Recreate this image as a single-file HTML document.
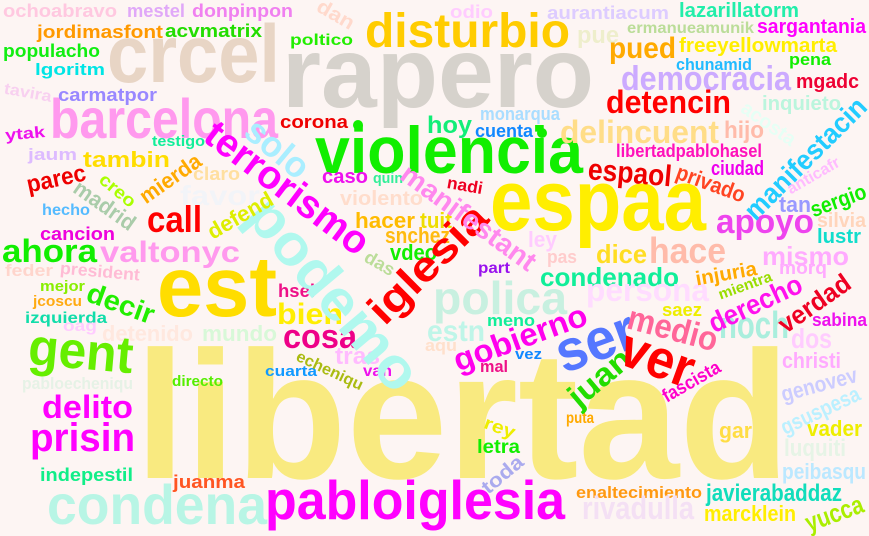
<!DOCTYPE html>
<html><head><meta charset="utf-8">
<style>
html,body{margin:0;padding:0;background:#fdf5f3;}
svg{display:block;}
text{font-family:"Liberation Sans",sans-serif;font-weight:bold;}
</style></head>
<body>
<svg id="cloud" width="869" height="536" viewBox="0 0 869 536" xmlns="http://www.w3.org/2000/svg">
<rect width="869" height="536" fill="#fdf5f3"/>
</svg>
<script>
// horizontal words: text, left x, baseline y, font size, color, width
const hWords = [
["libertad",135,478,182,"#f9ea80",655],
["rapero",282,107,100,"#d6d2cc",312],
["crcel",107,82,82,"#e8d5c5",173],
["disturbio",365,47,48,"#ffcc00",205],
["violencia",315,173,66,"#11ee00",268],
["espaa",490,230,86,"#ffee00",216],
["est",157,316,85,"#ffdd00",120],
["barcelona",50,138,56,"#ff99ee",228],
["pabloiglesia",265,519,55,"#ff00ff",300],
["condena",47,524,56,"#b8f5e5",220],
["prisin",30,451,40,"#ff00ff",105],
["delito",42,418,32,"#ff00ff",91],
["polica",433,314,46,"#c8f0e0",134],
["ochoabravo",3,17,18,"#ffc8e0",114],
["mestel",127,17,18,"#e0a8f8",58],
["donpinpon",192,17,18,"#f080f0",101],
["jordimasfont",37,38,18,"#ff9900",126],
["acvmatrix",165,37,18,"#22dd00",97],
["populacho",3,57,18,"#11ee11",97],
["lgoritm",35,75,17,"#00e5e5",70],
["carmatpor",58,101,18,"#9988ff",99],
["testigo",152,146,15,"#11ee99",53],
["jaum",28,160,17,"#ddbbff",49],
["tambin",83,167,22,"#ffdd00",87],
["claro",193,180,18,"#ffdfa0",47],
["favor",180,205,28,"#f2f4f8",80],
["hecho",42,215,16,"#55bbff",48],
["call",147,232,37,"#ff0000",55],
["cancion",40,240,18,"#ee00dd",75],
["ahora",2,262,32,"#11ee00",95],
["valtonyc",100,262,30,"#ff99ee",140],
["feder",5,276,17,"#ffd5cc",48],
["mejor",40,291,15,"#88ee00",45],
["jcoscu",33,306,15,"#ffaa11",49],
["izquierda",25,323,16,"#11ddaa",82],
["oag",63,331,16,"#ffccff",34],
["detenido",102,341,22,"#ffe8df",91],
["mundo",202,341,22,"#d8f8d8",75],
["hsel",278,297,18,"#ee1188",37],
["bien",277,324,30,"#ffee00",66],
["cosa",283,348,34,"#ee0088",74],
["pabloecheniqu",22,389,17,"#e6f2e6",111],
["directo",172,386,15,"#55ee00",51],
["cuarta",265,376,15,"#1199ff",52],
["indepestil",40,481,18,"#11ee88",93],
["juanma",173,488,18,"#ff5522",72],
["estn",427,341,30,"#bff5e8",58],
["meno",487,326,17,"#11ee99",48],
["aqu",425,351,17,"#ffe0cc",32],
["vez",515,359,15,"#1188ff",27],
["mal",480,372,17,"#ee1188",28],
["tras",335,364,24,"#ffbbff",45],
["van",363,376,16,"#ee11ee",29],
["letra",477,453,19,"#11ee00",43],
["puta",566,423,16,"#ffaa00",28],
["part",478,273,16,"#9911ee",32],
["condenado",540,286,26,"#11ee99",139],
["persona",586,301,32,"#ffdcff",123],
["morq",779,274,18,"#ffaaff",48],
["saez",662,316,18,"#eeee00",40],
["sabina",812,326,18,"#ee11ee",55],
["noch",719,338,38,"#aaeedd",70],
["dos",791,348,28,"#ffccff",41],
["christi",782,368,22,"#ffaaff",59],
["vader",807,436,22,"#eeee00",55],
["gar",719,438,22,"#ffdd44",33],
["luquiti",784,456,24,"#e6f4e6",62],
["peibasqu",782,479,22,"#bbe8ff",84],
["enaltecimiento",576,498,17,"#ff9911",126],
["javierabaddaz",706,501,24,"#11ddbb",136],
["rivadulla",582,519,32,"#f4e0f4",112],
["marcklein",704,521,22,"#ffee00",92],
["odio",450,18,18,"#ffccff",43],
["aurantiacum",547,19,18,"#ddccff",122],
["poltico",290,45,16,"#22ee00",63],
["pue",577,43,24,"#eeeecc",42],
["corona",280,128,18,"#ee0000",68],
["hoy",427,133,24,"#11ee77",45],
["monarqua",480,120,18,"#aaddff",80],
["cuenta",475,137,18,"#1188ff",58],
["delincuent",560,143,32,"#ffdd88",159],
["caso",322,183,20,"#ee11ee",46],
["quin",373,183,15,"#33ee99",30],
["violento",340,205,20,"#ffddcc",83],
["hacer",355,228,22,"#ffbb00",60],
["tuit",420,228,22,"#eedd00",32],
["snchez",385,243,22,"#ffbb11",65],
["vdeo",390,260,22,"#11ee00",47],
["ley",528,247,22,"#ffccff",29],
["pas",547,263,18,"#ffcccc",30],
["lazarillatorm",679,17,20,"#22eeaa",120],
["ermanueamunik",627,33,16,"#bbdd99",127],
["sargantania",757,33,20,"#ff00ff",109],
["pued",609,58,30,"#ffaa00",67],
["freeyellowmarta",679,52,20,"#ffee00",158],
["chunamid",676,70,17,"#22bbff",76],
["pena",789,65,17,"#11ee00",42],
["democracia",621,90,34,"#ccaaff",170],
["mgadc",796,88,20,"#ee0033",63],
["detencin",606,113,32,"#ff0000",125],
["inquieto",762,110,20,"#bbf5dd",79],
["hijo",724,138,24,"#ffbbaa",40],
["libertadpablohasel",616,157,18,"#ff11bb",146],
["ciudad",711,175,20,"#ee00ee",53],
["tan",779,212,22,"#9999ff",32],
["silvia",817,227,20,"#ffd5bb",49],
["apoyo",716,233,34,"#ee44ee",98],
["lustr",817,243,20,"#11ddcc",44],
["hace",649,263,36,"#ffbbaa",77],
["dice",596,263,26,"#ffdd22",51],
["mismo",762,265,26,"#ffaaff",87]
];
// rotated words: text, center x, center y, font size, color, width, rotation deg
const rWords = [
["podemo",335,293,58,"#b0f8ee",234,50],
["terrorismo",288,187,40,"#ff00ff",195,37],
["solo",278,148,36,"#aaeeff",72,40],
["iglesia",427,263,42,"#ff0000",150,-45],
["manifestant",469,217,28,"#ff88ee",160,36],
["gent",81,350,52,"#66ee00",105,5],
["decir",121,303,28,"#22ee00",70,20],
["parec",56,178,24,"#ee0000",60,-12],
["creo",118,190,18,"#aaff00",42,40],
["mierda",170,178,22,"#ffaa00",70,-35],
["madrid",105,205,22,"#aaccaa",70,35],
["defend",240,215,22,"#ddee00",72,-30],
["tavira",28,92,16,"#f8d0f0",48,10],
["ytak",25,133,16,"#ee11ee",40,-5],
["president",100,271,17,"#ffbbd5",80,5],
["echeniqu",330,370,16,"#aabb11",72,25],
["gobierno",520,337,32,"#ff00ee",140,-20],
["ser",595,340,58,"#5577ff",82,-20],
["juan",599,377,32,"#22dd00",72,-40],
["ver",658,357,55,"#ff0000",75,20],
["rey",500,427,18,"#eeee00",32,20],
["toda",502,474,20,"#aaaaee",48,-40],
["injuria",726,273,20,"#ffaa00",62,-10],
["mientra",745,285,15,"#99dd00",56,-20],
["derecho",755,303,28,"#ff11ee",100,-25],
["verdad",814,303,26,"#ee0022",82,-35],
["medio",673,328,34,"#ff6699",92,15],
["fascista",691,381,19,"#ff00cc",64,-30],
["genovev",819,384,22,"#ccccff",78,-15],
["gsuspesa",820,410,22,"#bbf0ff",85,-25],
["yucca",834,513,26,"#aaee00",60,-20],
["dan",336,14,20,"#ffd9cc",40,30],
["nadi",465,185,17,"#ee0022",36,10],
["das",380,263,18,"#bbdd99",32,30],
["acosta",769,123,20,"#e6fff5",62,35],
["espaol",630,172,30,"#ee0000",84,5],
["privado",711,183,22,"#ff4422",72,20],
["manifestacin",805,158,28,"#22ccff",160,-45],
["anticafr",813,175,16,"#ffbbff",58,-30],
["sergio",838,200,22,"#11ee00",58,-20]
];
const NS = "http://www.w3.org/2000/svg";
const svg = document.getElementById("cloud");
hWords.forEach(w => {
  const t = document.createElementNS(NS, "text");
  t.setAttribute("x", w[1]);
  t.setAttribute("y", w[2]);
  t.setAttribute("font-size", w[3]);
  t.setAttribute("fill", w[4]);
  t.setAttribute("textLength", w[5]);
  t.setAttribute("lengthAdjust", "spacingAndGlyphs");
  t.textContent = w[0];
  
  
  svg.appendChild(t);
});
rWords.forEach(w => {
  const t = document.createElementNS(NS, "text");
  t.setAttribute("x", w[1]);
  t.setAttribute("y", w[2] + w[3] * 0.36);
  t.setAttribute("text-anchor", "middle");
  t.setAttribute("font-size", w[3]);
  t.setAttribute("fill", w[4]);
  t.setAttribute("textLength", w[5]);
  t.setAttribute("lengthAdjust", "spacingAndGlyphs");
  t.setAttribute("transform", "rotate(" + w[6] + " " + w[1] + " " + w[2] + ")");
  t.textContent = w[0];
  
  
  svg.appendChild(t);
});
[[358,125],[542,133]].forEach(p => {
  const c = document.createElementNS(NS, "circle");
  c.setAttribute("cx", p[0]); c.setAttribute("cy", p[1]); c.setAttribute("r", 5);
  c.setAttribute("fill", "#11ee00");
  
  
  svg.appendChild(c);
});
</script>
</body></html>
